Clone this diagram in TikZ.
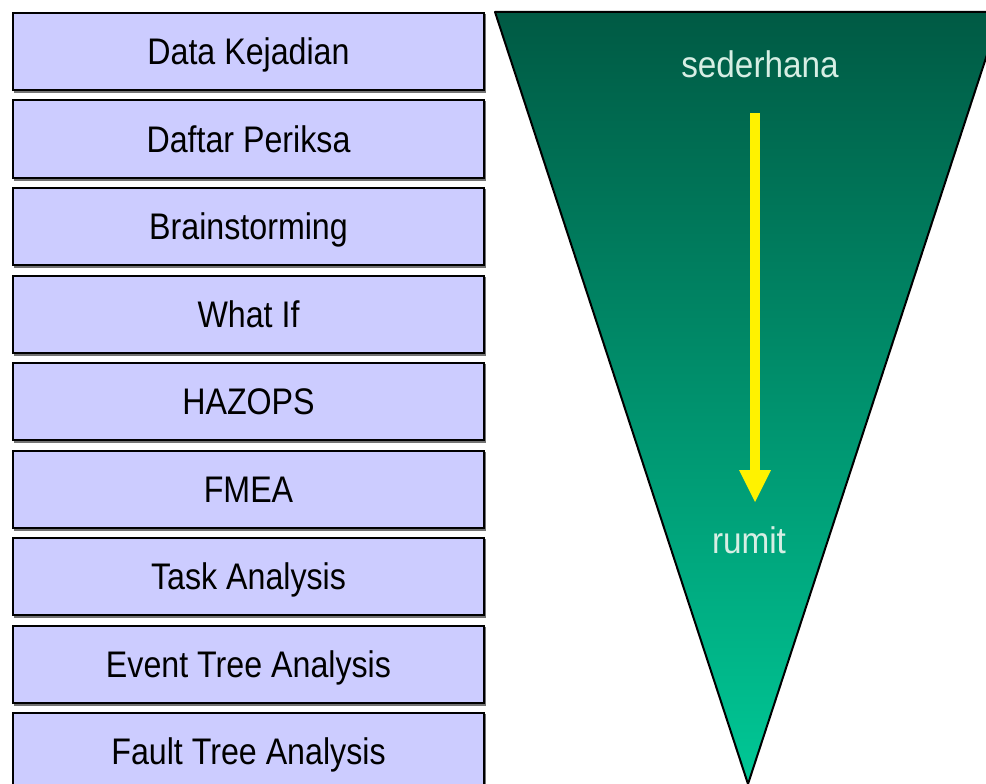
\documentclass[tikz,border=0pt]{standalone}
\usepackage{fontspec}
\setmainfont{Liberation Sans}
\usetikzlibrary{positioning,calc}

\definecolor{boxfill}{RGB}{204,204,255}
\definecolor{topgreen}{RGB}{0,90,68}
\definecolor{botgreen}{RGB}{0,200,150}
\definecolor{paletext}{RGB}{215,238,228}

\tikzset{
	method/.style={draw=black,line width=2pt,fill=boxfill,minimum width=471pt,
		minimum height=77pt,inner sep=0pt,anchor=north west,text height=26.5pt,text depth=0pt,
		font=\fontsize{37}{37}\selectfont\addfontfeature{FakeStretch=0.87}},
	shadowbox/.style={fill=black!55},
	label/.style={text=paletext,text height=26.5pt,text depth=0pt,
		font=\fontsize{37}{37}\selectfont\addfontfeature{FakeStretch=0.9}}
}

\begin{document}
\begin{tikzpicture}[x=1pt,y=-1pt]
	\useasboundingbox (0,0) rectangle (986,784);
	\clip (0,0) rectangle (986,784);
	\fill[white] (0,0) rectangle (986,784);
	
	%list of methods, from simple to complex
	\foreach \name [count=\i from 0] in {Data Kejadian,Daftar Periksa,Brainstorming,What If,HAZOPS,FMEA,Task Analysis,Event Tree Analysis,Fault Tree Analysis}{
		\fill[shadowbox] (14,{14+87.5*\i}) rectangle (486,{93+87.5*\i});
		\node[method] (m\i) at (12,{12+87.5*\i}) {\name};
	}
	
	%the funnel
	\coordinate (tl) at (495,12);
	\coordinate (tr) at (1001,12);
	\coordinate (apex) at (748,784);
	\shade[top color=topgreen,bottom color=botgreen] (tl) -- (tr) -- (apex) -- cycle;
	\draw[black,line width=2pt,line join=round] (apex) -- (tl) -- (tr) -- (apex);
	
	\node[label] (simple) at (760,64) {sederhana};
	\node[label] (complex) at (749,540) {rumit};
	
	%arrow from simple to complex
	\coordinate (astart) at (755,113);
	\coordinate (aend) at (755,502);
	\draw[yellow,line width=10pt] (astart) -- ($(aend)+(0,-30)$);
	\fill[yellow] ($(aend)+(-16,-32)$) -- ($(aend)+(16,-32)$) -- (aend) -- cycle;
\end{tikzpicture}
\end{document}
